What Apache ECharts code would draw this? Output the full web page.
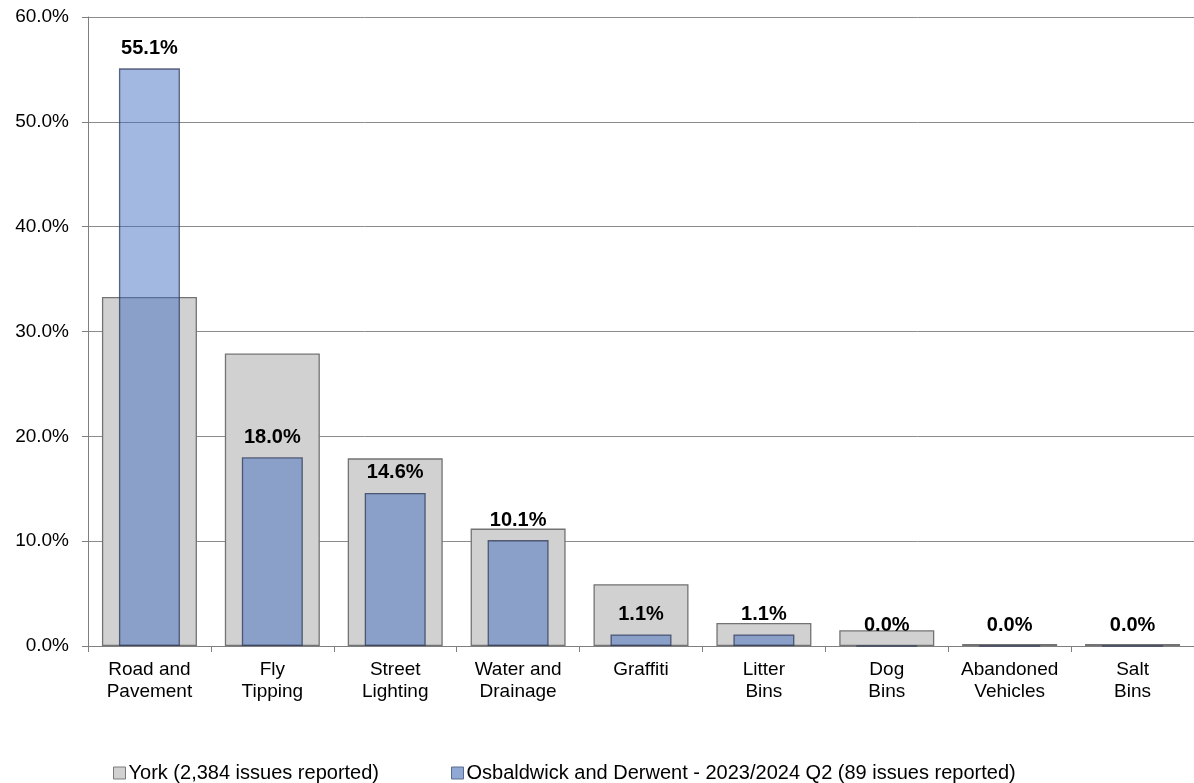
<!DOCTYPE html>
<html>
<head>
<meta charset="utf-8">
<script src="https://cdn.jsdelivr.net/npm/echarts@6/dist/echarts.min.js"></script>
<style>
html,body{margin:0;padding:0;background:#fff;}
#chart{width:1194px;height:783px;}
</style>
</head>
<body>
<div id="chart"></div>
<script>
const categories = ['Road and\nPavement','Fly\nTipping','Street\nLighting','Water and\nDrainage','Graffiti','Litter\nBins','Dog\nBins','Abandoned\nVehicles','Salt\nBins'];
const yorkValues = [33.3, 27.9, 17.9, 11.2, 5.9, 2.2, 1.5, 0.2, 0.2];
const wardValues = [55.1, 18.0, 14.6, 10.1, 1.1, 1.1, 0.0, 0.0, 0.0];
const yTicks = [0, 10, 20, 30, 40, 50, 60];
const yorkName = 'York (2,384 issues reported)';
const wardName = 'Osbaldwick and Derwent - 2023/2024 Q2 (89 issues reported)';

const FONT = '"Liberation Sans", Arial, sans-serif';
const chart = echarts.init(document.getElementById('chart'), null, {renderer:'canvas'});
chart.setOption({
  animation: false,
  backgroundColor: '#fff',
  textStyle: {fontFamily: FONT},
  grid: {left: 88, right: 0, top: 17, bottom: 137, containLabel: false},
  legend: [
    {
      data: [{name: yorkName, icon: 'rect', itemStyle: {color: '#d1d1d1', borderColor: '#7a7a7a', borderWidth: 1}}],
      left: 108, top: 758, itemWidth: 12, itemHeight: 12, itemGap: 0,
      textStyle: {fontFamily: FONT, fontSize: 20, color: '#000', padding: [0,0,0,-2]}
    },
    {
      data: [{name: wardName, icon: 'rect', itemStyle: {color: '#8fa8d4', borderColor: '#5b6b8c', borderWidth: 1}}],
      left: 446, top: 758, itemWidth: 12, itemHeight: 12, itemGap: 0,
      textStyle: {fontFamily: FONT, fontSize: 20, color: '#000', padding: [0,0,0,-2]}
    }
  ],
  xAxis: [
    {
      type: 'category', data: categories,
      axisLine: {lineStyle: {color: '#7f7f7f', width: 1}},
      axisTick: {show: true, length: 6, lineStyle: {color: '#7f7f7f'}},
      axisLabel: {color: '#000', fontSize: 19, fontFamily: FONT, lineHeight: 22, margin: 13, interval: 0}
    },
    {
      type: 'category', data: categories, show: false
    }
  ],
  yAxis: {
    type: 'value', min: yTicks[0], max: yTicks[yTicks.length-1], interval: 10,
    axisLine: {show: true, lineStyle: {color: '#7f7f7f', width: 1}},
    axisTick: {show: true, length: 6, lineStyle: {color: '#7f7f7f'}},
    splitLine: {lineStyle: {color: '#8c8c8c', width: 1}},
    axisLabel: {color: '#000', fontSize: 19, fontFamily: FONT, margin: 19,
      formatter: v => v.toFixed(1) + '%'}
  },
  series: [
    {
      name: yorkName, type: 'bar', xAxisIndex: 0, data: yorkValues, barWidth: 95, z: 2,
      itemStyle: {color: '#d1d1d1', borderColor: '#737373', borderWidth: 1.3}
    },
    {
      name: wardName, type: 'bar', xAxisIndex: 1, data: wardValues, barWidth: 61, z: 3,
      itemStyle: {color: 'rgba(58,105,189,0.47)', borderColor: 'rgba(45,55,85,0.75)', borderWidth: 1.3},
      label: {show: true, position: 'top', distance: 10, color: '#000', fontWeight: 'bold',
        fontSize: 20, fontFamily: FONT, formatter: p => p.value.toFixed(1) + '%'}
    }
  ]
});
</script>
</body>
</html>
